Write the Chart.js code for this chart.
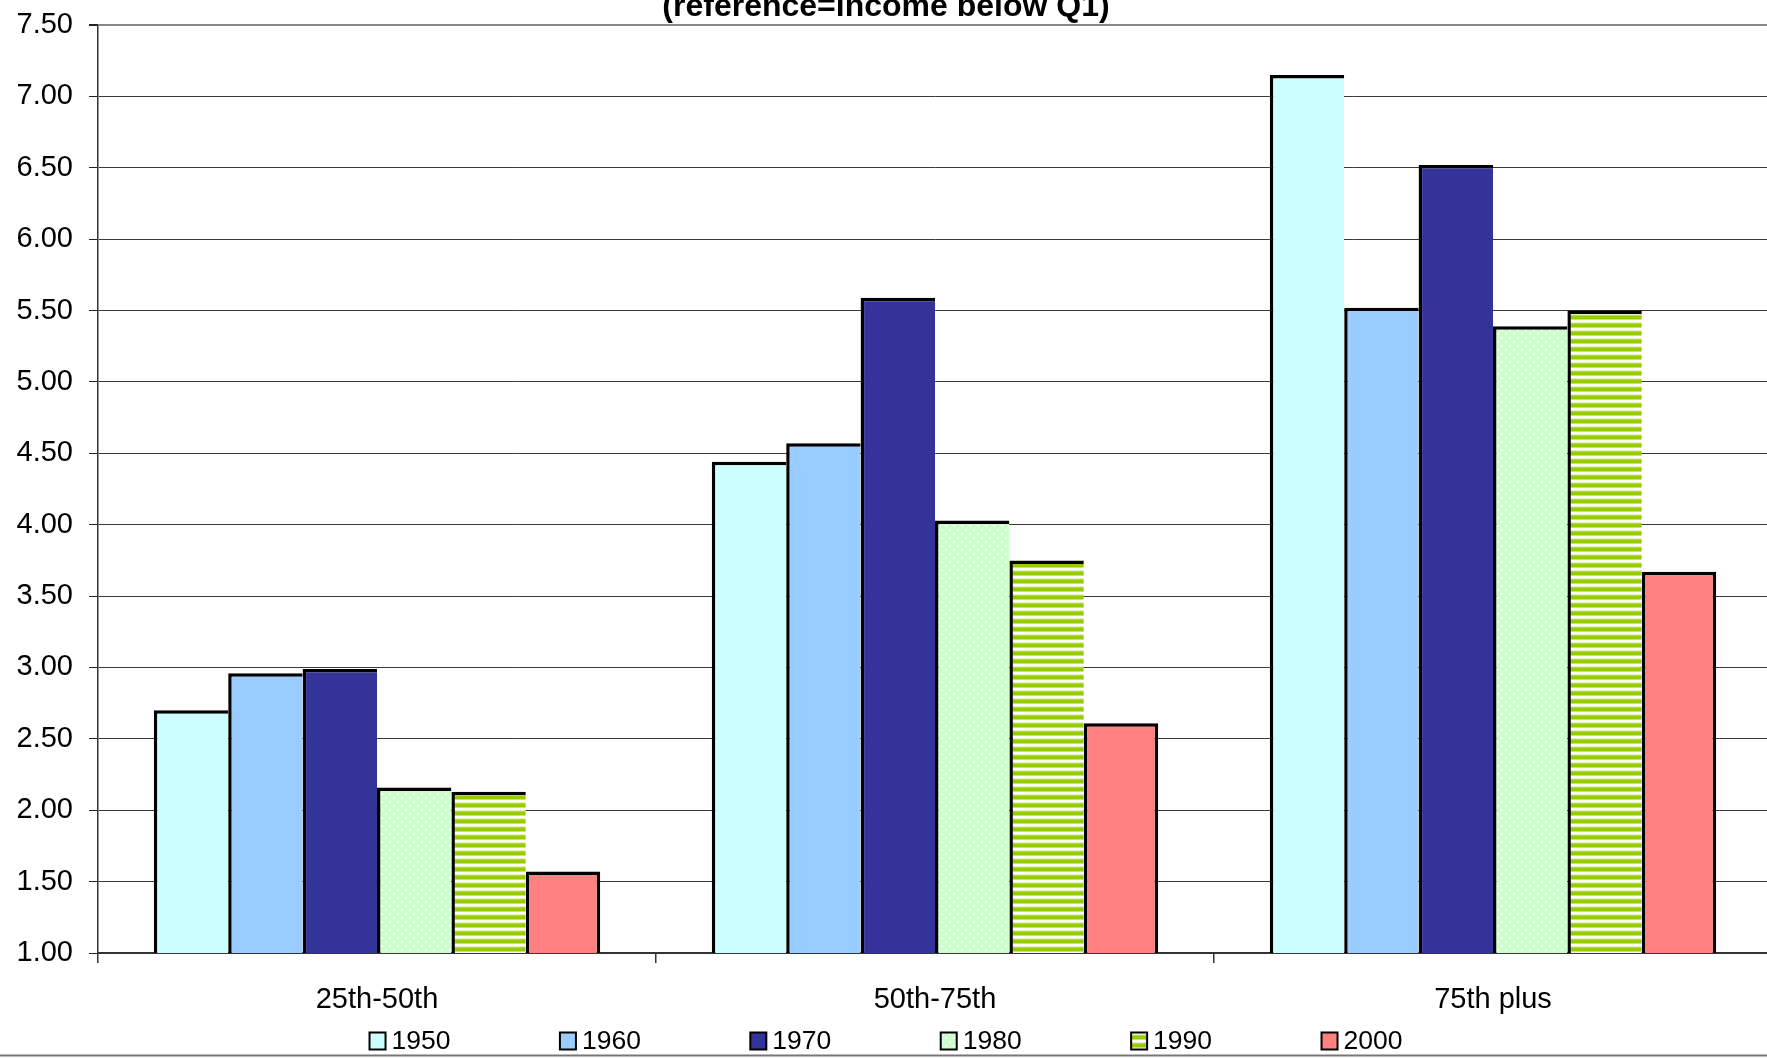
<!DOCTYPE html>
<html>
<head>
<meta charset="utf-8">
<title>Income quartile ratios by decade</title>
<script src="https://cdn.jsdelivr.net/npm/chart.js@4.4.1/dist/chart.umd.min.js"></script>
<style>
  html, body { margin: 0; padding: 0; background: #fff; overflow: hidden; width: 1767px; height: 1058px; }
  #wrap { position: absolute; left: 0; top: -12px; width: 1772px; height: 1070px; }
</style>
</head>
<body>
<div id="wrap"><canvas id="c" width="1772" height="1070"></canvas></div>
<script>
// ---- data ----
const categories = ['25th-50th', '50th-75th', '75th plus'];
const seriesNames = ['1950', '1960', '1970', '1980', '1990', '2000'];
const v1950 = [2.70, 4.44, 7.15];
const v1960 = [2.96, 4.57, 5.52];
const v1970 = [2.99, 5.59, 6.52];
const v1980 = [2.16, 4.03, 5.39];
const v1990 = [2.13, 3.75, 5.50];
const v2000 = [1.57, 2.61, 3.67];
const yTickValues = [1.00, 1.50, 2.00, 2.50, 3.00, 3.50, 4.00, 4.50, 5.00, 5.50, 6.00, 6.50, 7.00, 7.50];
const titleText = '(reference=income below Q1)';

const FONT = '"Liberation Sans", Arial, Helvetica, sans-serif';
Chart.defaults.font.family = FONT;
Chart.defaults.color = '#000';

// ---- fill patterns ----
function dotPattern() {
  const t = document.createElement('canvas');
  t.width = 8; t.height = 8;
  const g = t.getContext('2d');
  g.fillStyle = '#CCFFCC';
  g.fillRect(0, 0, 8, 8);
  g.fillStyle = '#F2FFF2';
  g.fillRect(1, 1, 2, 2);
  g.fillRect(5, 5, 2, 2);
  return g.createPattern(t, 'repeat');
}
function stripePattern() {
  const t = document.createElement('canvas');
  t.width = 8; t.height = 8;
  const g = t.getContext('2d');
  const rows = ['#99CC00', '#99CC00', '#99CC00', '#C6E27A', '#FFFFFF', '#FFFFFF', '#E4F1BC', '#B3D940'];
  rows.forEach((c, i) => { g.fillStyle = c; g.fillRect(0, i, 8, 1); });
  return g.createPattern(t, 'repeat');
}

const fills = ['#CCFFFF', '#99CCFF', '#333399', dotPattern(), stripePattern(), '#FF8080'];
const values = [v1950, v1960, v1970, v1980, v1990, v2000];

const EDGE = 3.5;
const datasets = seriesNames.map((name, i) => ({
  label: name,
  data: values[i],
  backgroundColor: fills[i],
  borderColor: '#000',
  // neighbouring bars share one edge line; only the last bar closes the group on the right
  borderWidth: { top: EDGE, bottom: EDGE, left: EDGE, right: i === seriesNames.length - 1 ? EDGE : 0 },
  borderSkipped: false,
  categoryPercentage: 0.8,
  barPercentage: 1.0
}));

// legend row drawn under the axis labels
const legendRow = {
  id: 'legendRow',
  afterDraw(chart) {
    const ctx = chart.ctx;
    const ds = chart.data.datasets;
    const step = 190.4, box = 16, boxH = 17, gap = 6, cy = 1053;
    ctx.save();
    ctx.font = '26.5px ' + FONT;
    const lastW = box + gap + ctx.measureText(ds[ds.length - 1].label).width;
    const total = step * (ds.length - 1) + lastW;
    let x = chart.width / 2 - total / 2;
    ds.forEach(d => {
      ctx.fillStyle = d.backgroundColor;
      ctx.fillRect(x, cy - boxH / 2, box, boxH);
      ctx.lineWidth = 2;
      ctx.strokeStyle = '#000';
      ctx.strokeRect(x, cy - boxH / 2, box, boxH);
      ctx.fillStyle = '#000';
      ctx.textBaseline = 'middle';
      ctx.textAlign = 'left';
      ctx.fillText(d.label, x + box + gap, cy + 1);
      x += step;
    });
    // outer frame line along the bottom
    ctx.strokeStyle = '#777';
    ctx.lineWidth = 2;
    ctx.beginPath();
    ctx.moveTo(0, 1067.5);
    ctx.lineTo(chart.width, 1067.5);
    ctx.stroke();
    ctx.restore();
  }
};

new Chart(document.getElementById('c'), {
  type: 'bar',
  data: { labels: categories, datasets },
  plugins: [legendRow],
  options: {
    responsive: false,
    animation: false,
    devicePixelRatio: 1,
    layout: { padding: { left: 0, right: 0, top: 0, bottom: 35 } },
    plugins: {
      legend: { display: false },
      tooltip: { enabled: false },
      title: {
        display: true,
        text: titleText,
        color: '#000',
        font: { size: 32, weight: 'bold', family: FONT, lineHeight: 1 },
        padding: { top: 3, bottom: 2 }
      }
    },
    scales: {
      x: {
        afterFit: s => { s.height = 70; },
        ticks: { font: { size: 29 }, color: '#000', padding: 20 },
        grid: { offset: true, drawOnChartArea: false, tickLength: 10, color: '#333', lineWidth: 1.5 },
        border: { color: '#333', width: 1.5 }
      },
      y: {
        min: 1,
        max: 7.5,
        afterBuildTicks: s => { s.ticks = yTickValues.map(v => ({ value: v })); },
        afterFit: s => { s.width = 98; },
        ticks: { font: { size: 29 }, color: '#000', padding: 16, callback: v => Number(v).toFixed(2) },
        grid: {
          color: c => (c.tick && c.tick.value === 7.5) ? '#888' : '#3a3a3a',
          lineWidth: c => (c.tick && c.tick.value === 7.5) ? 2 : 1,
          tickColor: '#222',
          tickLength: 9
        },
        border: { color: '#333', width: 1.5 }
      }
    }
  }
});
</script>
</body>
</html>
